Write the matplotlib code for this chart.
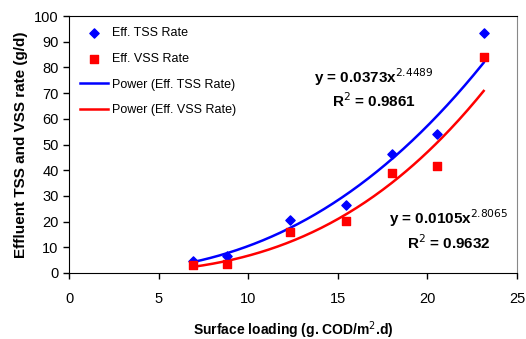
import numpy as np
import matplotlib
matplotlib.use("Agg")
import matplotlib.pyplot as plt

plt.rcParams['font.family'] = ['Liberation Sans', 'DejaVu Sans']

# Data
loading = [6.9, 8.83, 12.34, 15.46, 18.05, 20.56, 23.14]
tss_rate = [4.8, 6.7, 20.75, 26.3, 46.2, 54.1, 93.5]
vss_rate = [3.2, 3.4, 16.0, 20.1, 38.8, 41.6, 84.2]
tss_fit = (0.0373, 2.4489)
vss_fit = (0.0105, 2.8065)
tss_r2 = 0.9861
vss_r2 = 0.9632

fig = plt.figure(figsize=(5.26, 3.39), dpi=100)
ax = fig.add_axes([69/526, 1-273/339, (517-69)/526, (273-16)/339])

xf = np.linspace(min(loading), max(loading), 200)
ax.plot(xf, tss_fit[0]*xf**tss_fit[1], color='#0000ff', lw=1.8, label='Power (Eff. TSS Rate)', zorder=2)
ax.plot(xf, vss_fit[0]*xf**vss_fit[1], color='#ff0000', lw=1.8, label='Power (Eff. VSS Rate)', zorder=2)
ax.scatter(loading, tss_rate, marker='D', s=22, color='#0000ff', label='Eff. TSS Rate', zorder=3)
ax.scatter(loading, vss_rate, marker='s', s=28, color='#ff0000', label='Eff. VSS Rate', zorder=3)

ax.set_xlim(0, 25)
ax.set_ylim(0, 100)
ax.set_xticks(range(0, 26, 5))
ax.set_yticks(range(0, 101, 10))
ax.tick_params(direction='out', length=4, labelsize=10.5, width=1)
ax.tick_params(axis='x', pad=10)
for s in ['top', 'left', 'bottom']:
    ax.spines[s].set_color('black')
ax.spines['right'].set_color('#888888')

ax.set_xlabel('Surface loading (g. COD/m$^2$.d)', fontsize=10, fontweight='bold', labelpad=9)
ax.set_ylabel('Effluent TSS and VSS rate (g/d)', fontsize=11, fontweight='bold', labelpad=4)

h, l = ax.get_legend_handles_labels()
order = [2, 3, 0, 1]
ax.legend([h[i] for i in order], [l[i] for i in order], loc='upper left', frameon=False,
          fontsize=9, handlelength=2.2, handletextpad=0.3, labelspacing=1.1,
          bbox_to_anchor=(0.0, 1.0))

ax.text(17.0, 74, 'y = %.4fx$^{%.4f}$' % tss_fit, fontsize=11, fontweight='bold', ha='center')
ax.text(17.0, 64.5, 'R$^2$ = %.4f' % tss_r2, fontsize=11, fontweight='bold', ha='center')
ax.text(21.2, 19, 'y = %.4fx$^{%.4f}$' % vss_fit, fontsize=11, fontweight='bold', ha='center')
ax.text(21.2, 9.5, 'R$^2$ = %.4f' % vss_r2, fontsize=11, fontweight='bold', ha='center')

fig.savefig('out.png', dpi=100)
